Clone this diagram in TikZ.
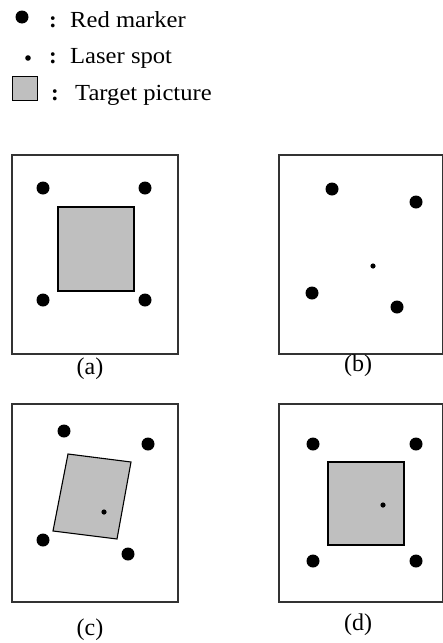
\documentclass[tikz,border=0pt]{standalone}
\usepackage{fontspec}
\setmainfont{Liberation Serif}
\begin{document}
\begin{tikzpicture}[x=1pt,y=-1pt,
  marker/.style={fill=black,draw=none},
  frame/.style={draw=black!80,line width=1.3pt,fill=white},
  picture/.style={draw=black,line width=1.1pt,fill=black!25},
  legtext/.style={anchor=base west,inner sep=0pt,font=\fontsize{23}{27}\selectfont},
  caption/.style={anchor=center,inner sep=0pt,font=\fontsize{24}{28}\selectfont}]
\useasboundingbox (0,0) rectangle (443,643);
% legend
\fill[marker] (22,17) circle (6.5);
\node[legtext] (c1) at (49,27) {\textbf{:}};
\node[legtext] (t1) at (70,27) {\scalebox{1.07}[1]{Red marker}};
\fill[marker] (28,58) circle (2.8);
\node[legtext] (c2) at (49,63) {\textbf{:}};
\node[legtext] (t2) at (70,63) {\scalebox{1.07}[1]{Laser spot}};
\draw[picture,line width=1pt] (12,76) rectangle (37,100);
\node[legtext] (c3) at (51,100) {\textbf{:}};
\node[legtext] (t3) at (75,100) {\scalebox{1.07}[1]{Target picture}};
% panel (a)
\draw[frame] (12,155) rectangle (178,354);
\draw[picture] (58,207) rectangle (134,291);
\foreach \p in {(43,188),(145,188),(43,300),(145,300)} \fill[marker] \p circle (6.5);
\node[caption] (la) at (90,369) {(a)};
% panel (b)
\draw[frame] (279,155) rectangle (442.5,354);
\foreach \p in {(332,189),(416,202),(312,293),(397,307)} \fill[marker] \p circle (6.5);
\fill[marker] (373,266) circle (2.6);
\node[caption] (lb) at (358,366) {(b)};
% panel (c)
\draw[frame] (12,404) rectangle (178,602);
\draw[picture] (68,454) -- (131,462) -- (117,539) -- (53,531) -- cycle;
\foreach \p in {(64,431),(148,444),(43,540),(128,554)} \fill[marker] \p circle (6.5);
\fill[marker] (104,512) circle (2.6);
\node[caption] (lc) at (90,630) {(c)};
% panel (d)
\draw[frame] (279,404) rectangle (442.5,602);
\draw[picture] (328,462) rectangle (404,545);
\foreach \p in {(313,444),(416,444),(313,561),(416,561)} \fill[marker] \p circle (6.5);
\fill[marker] (383,505) circle (2.6);
\node[caption] (ld) at (358,625) {(d)};
\end{tikzpicture}
\end{document}
